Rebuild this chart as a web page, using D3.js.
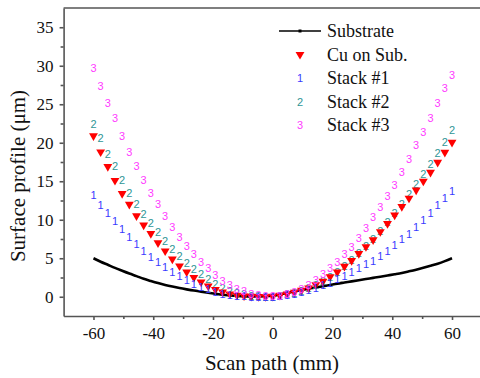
<!DOCTYPE html>
<html>
<head>
<meta charset="utf-8">
<script src="https://cdn.jsdelivr.net/npm/d3@7"></script>
<style>
  body { margin: 0; background: #fff; }
  svg text { font-family: "Liberation Serif", "Times New Roman", serif; }
</style>
</head>
<body>
<div id="chart"></div>
<script>
// scan positions (mm) and profile values (um)
const scanPath = [-60, -57.6, -55.2, -52.8, -50.4, -48, -45.6, -43.2, -40.8, -38.4, -36, -33.6, -31.2,
  -28.8, -26.4, -24, -21.6, -19.2, -16.8, -14.4, -12, -9.6, -7.2, -4.8, -2.4, 0,
  2.4, 4.8, 7.2, 9.6, 12, 14.4, 16.8, 19.2, 21.6, 24, 26.4, 28.8, 31.2, 33.6, 36,
  38.4, 40.8, 43.2, 45.6, 48, 50.4, 52.8, 55.2, 57.6, 60];

const substrate = [5.0, 4.55, 4.15, 3.75, 3.38, 3.02, 2.68, 2.33, 2.04, 1.77, 1.53, 1.32, 1.13,
  0.96, 0.8, 0.66, 0.52, 0.38, 0.25, 0.17, 0.1, 0.05, 0.03, 0.03, 0.08, 0.15,
  0.3, 0.48, 0.68, 0.88, 1.05, 1.2, 1.36, 1.53, 1.7, 1.85, 2.0, 2.15, 2.3, 2.45, 2.6,
  2.76, 2.92, 3.09, 3.3, 3.52, 3.76, 4.02, 4.3, 4.63, 5.0];

const cuOnSub = [20.9, 18.8, 16.9, 15.1, 13.4, 12.0, 10.5, 9.3, 8.2, 7.0, 5.95, 4.9, 4.0,
  3.22, 2.5, 1.9, 1.38, 0.94, 0.6, 0.36, 0.2, 0.1, 0.05, 0.02, 0.0, 0.05,
  0.18, 0.35, 0.57, 0.83, 1.13, 1.56, 2.0, 2.6, 3.2, 3.95, 4.7, 5.6, 6.5, 7.4, 8.45,
  9.5, 10.6, 11.7, 12.8, 13.85, 15.0, 16.15, 17.45, 18.75, 20.05];

const stack1 = [13.2, 11.9, 10.9, 9.8, 8.75, 7.8, 6.85, 6.0, 5.1, 4.45, 3.8, 3.2, 2.65,
  2.2, 1.7, 1.3, 0.95, 0.65, 0.4, 0.25, 0.13, 0.06, 0.02, 0.0, 0.0, 0.02,
  0.12, 0.25, 0.4, 0.6, 0.9, 1.2, 1.5, 1.85, 2.3, 2.75, 3.2, 3.7, 4.2, 4.7, 5.3,
  6.0, 6.7, 7.45, 8.2, 9.1, 10.0, 10.9, 11.9, 12.8, 13.7];

const stack2 = [22.4, 20.6, 18.5, 17.0, 15.15, 13.5, 12.1, 10.8, 9.6, 8.45, 7.3, 6.2, 5.3,
  4.4, 3.6, 2.9, 2.25, 1.7, 1.2, 0.8, 0.5, 0.3, 0.15, 0.07, 0.03, 0.03,
  0.12, 0.3, 0.5, 0.78, 1.1, 1.55, 2.0, 2.6, 3.25, 4.0, 4.75, 5.7, 6.6, 7.55, 8.6,
  9.7, 10.85, 12.0, 13.3, 14.6, 15.9, 17.3, 18.7, 20.1, 21.65];

const stack3 = [29.7, 27.4, 25.1, 23.2, 20.9, 18.75, 17.0, 15.15, 13.5, 12.0, 10.5, 9.1, 7.7,
  6.6, 5.5, 4.55, 3.7, 2.86, 2.08, 1.48, 1.04, 0.7, 0.4, 0.2, 0.08, 0.05,
  0.15, 0.35, 0.6, 1.05, 1.5, 2.17, 2.95, 3.7, 4.55, 5.6, 6.5, 7.6, 8.9, 10.35, 11.7,
  13.05, 14.5, 16.2, 17.9, 19.7, 21.4, 23.2, 25.1, 27.1, 28.8];

const xTicks = [-60, -40, -20, 0, 20, 40, 60];
const yTicks = [0, 5, 10, 15, 20, 25, 30, 35];
const legendNames = ['Substrate', 'Cu on Sub.', 'Stack #1', 'Stack #2', 'Stack #3'];

const W = 480, H = 378;
const axisColor = '#555';
const glyphColors = { '1': '#3a3aff', '2': '#2f9696', '3': '#ff3cff' };

const x = d3.scaleLinear().domain([-70, 70]).range([63.6, 481.9]);
const y = d3.scaleLinear().domain([-2.5, 37.5]).range([316, 8]);

const svg = d3.select('#chart')
  .append('svg')
  .attr('width', W)
  .attr('height', H);

function pts(values) {
  return scanPath.map((p, i) => ({ x: p, y: values[i] }));
}

// frame (top border)
svg.append('line')
  .attr('x1', x(-70)).attr('x2', x(70))
  .attr('y1', y(37.5)).attr('y2', y(37.5))
  .attr('stroke', axisColor).attr('stroke-width', 1.6);

// axes
const xAxis = svg.append('g')
  .attr('transform', `translate(0,${y(-2.5)})`)
  .call(d3.axisBottom(x).tickValues(xTicks).tickSize(4).tickPadding(7).tickSizeOuter(0));
svg.append('g')
  .attr('transform', `translate(0,${y(-2.5)})`)
  .call(d3.axisBottom(x).tickValues([-50, -30, -10, 10, 30, 50]).tickSize(3).tickFormat('').tickSizeOuter(0))
  .select('.domain').remove();

const yAxis = svg.append('g')
  .attr('transform', `translate(${x(-70)},0)`)
  .call(d3.axisLeft(y).tickValues(yTicks).tickSize(4).tickPadding(6).tickSizeOuter(0));
svg.append('g')
  .attr('transform', `translate(${x(-70)},0)`)
  .call(d3.axisLeft(y).tickValues([2.5, 7.5, 12.5, 17.5, 22.5, 27.5, 32.5]).tickSize(3).tickFormat('').tickSizeOuter(0))
  .select('.domain').remove();

svg.selectAll('.domain, .tick line')
  .attr('stroke', axisColor)
  .attr('stroke-width', 1.6);

xAxis.selectAll('text')
  .style('font-family', 'Liberation Serif')
  .style('font-size', '17px')
  .attr('fill', '#111')
  .text(d => d < 0 ? '-' + Math.abs(d) : d);
yAxis.selectAll('text')
  .style('font-family', 'Liberation Serif')
  .style('font-size', '17px')
  .attr('fill', '#111');

// axis titles
svg.append('text')
  .attr('x', 272).attr('y', 370)
  .attr('text-anchor', 'middle')
  .style('font-size', '21px')
  .attr('fill', '#111')
  .text('Scan path (mm)');

svg.append('text')
  .attr('transform', 'translate(25,176) rotate(-90)')
  .attr('text-anchor', 'middle')
  .style('font-size', '21px')
  .attr('fill', '#111')
  .text('Surface profile (\u03bcm)');

// substrate line
const line = d3.line().x(d => x(d.x)).y(d => y(d.y)).curve(d3.curveMonotoneX);
svg.append('path')
  .datum(pts(substrate))
  .attr('d', line)
  .attr('fill', 'none')
  .attr('stroke', '#000')
  .attr('stroke-width', 2.6);

const tri = d3.symbol().type(d3.symbolTriangle).size(34);

function glyphs(values, ch) {
  svg.append('g')
    .selectAll('text')
    .data(pts(values))
    .enter()
    .append('text')
    .attr('x', d => x(d.x))
    .attr('y', d => y(d.y))
    .attr('text-anchor', 'middle')
    .attr('dominant-baseline', 'central')
    .style('font-family', 'Liberation Sans')
    .style('font-size', '11px')
    .attr('fill', glyphColors[ch])
    .text(ch);
}

glyphs(stack2, '2');

svg.append('g')
  .selectAll('path')
  .data(pts(cuOnSub))
  .enter()
  .append('path')
  .attr('d', tri)
  .attr('transform', d => `translate(${x(d.x)},${y(d.y)}) rotate(180)`)
  .attr('fill', '#ff0000');

glyphs(stack1, '1');
glyphs(stack3, '3');

// legend
const legend = svg.append('g').attr('transform', 'translate(300,31)');
const rowH = 23.5;
legendNames.forEach((name, i) => {
  const g = legend.append('g').attr('transform', `translate(0,${i * rowH})`);
  if (i === 0) {
    g.append('line').attr('x1', -21).attr('x2', 21)
      .attr('stroke', '#000').attr('stroke-width', 1.6);
    g.append('rect').attr('x', -1.5).attr('y', -1.5).attr('width', 3).attr('height', 3).attr('fill', '#000');
  } else if (i === 1) {
    g.append('path').attr('d', tri).attr('transform', 'rotate(180)').attr('fill', '#ff0000');
  } else {
    const ch = String(i - 1);
    g.append('text')
      .attr('text-anchor', 'middle')
      .attr('dominant-baseline', 'central')
      .style('font-family', 'Liberation Sans')
      .style('font-size', '11px')
      .attr('fill', glyphColors[ch])
      .text(ch);
  }
  g.append('text')
    .attr('x', 27)
    .attr('dominant-baseline', 'central')
    .style('font-size', '18px')
    .attr('fill', '#111')
    .text(name);
});
</script>
</body>
</html>
